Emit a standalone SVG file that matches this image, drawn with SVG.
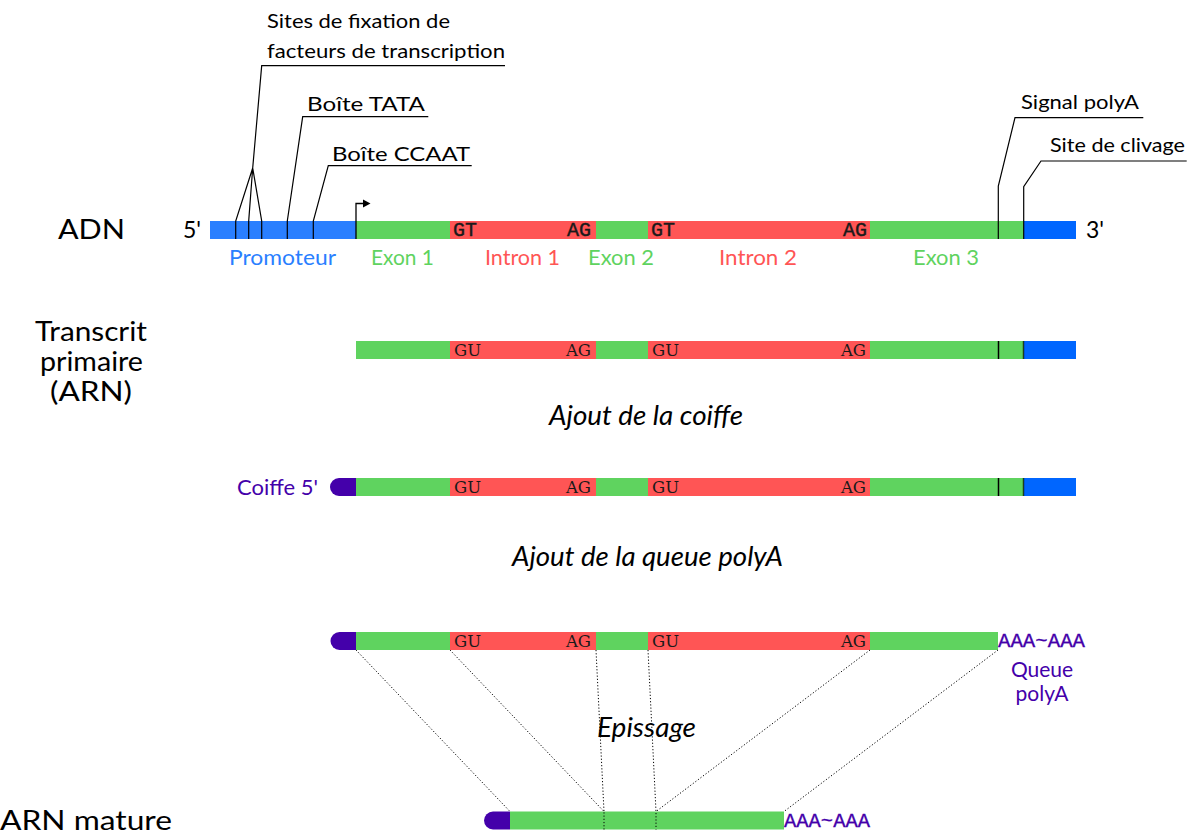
<svg xmlns="http://www.w3.org/2000/svg" width="1196" height="837" viewBox="0 0 1196 837">
<style>
.sans{font-family:Lato,"Open Sans","DejaVu Sans",sans-serif;}
.lbl{font-size:20px;fill:#000;}
.big{font-size:26px;fill:#000;}
.ital{font-size:27px;font-style:italic;fill:#000;}
.mono{font-family:"Liberation Mono","DejaVu Sans Mono",monospace;font-size:20px;fill:#1a1a1a;stroke:#1a1a1a;stroke-width:0.4;}
.ser{font-family:"DejaVu Serif","Liberation Serif",serif;font-size:16.5px;fill:#1a1a1a;}
.aaa{font-family:"Liberation Mono","DejaVu Sans Mono",monospace;font-size:20px;fill:#4400aa;stroke:#4400aa;stroke-width:0.3;}
.g{fill:#5fd35f;}
.r{fill:#ff5555;}
.b{fill:#0066ff;}
.pb{fill:#2a7fff;}
.cap{fill:#4400aa;}
.lead{fill:none;stroke:#000;stroke-width:1.2;}
.dot{fill:none;stroke:#000;stroke-width:1;stroke-dasharray:1.2,2;}
.mark{stroke:#000;stroke-width:1.5;}
</style>

<!-- Row labels -->
<g id="labels">
<text class="sans big" x="58" y="239" textLength="67" lengthAdjust="spacingAndGlyphs">ADN</text>
<text class="sans big" x="35" y="341" textLength="112" lengthAdjust="spacingAndGlyphs">Transcrit</text>
<text class="sans big" x="40" y="371" textLength="103" lengthAdjust="spacingAndGlyphs">primaire</text>
<text class="sans big" x="50" y="401" textLength="82" lengthAdjust="spacingAndGlyphs">(ARN)</text>
<text class="sans big" x="0" y="830" textLength="172" lengthAdjust="spacingAndGlyphs">ARN mature</text>
<text class="sans ital" x="549" y="425" textLength="194" lengthAdjust="spacingAndGlyphs">Ajout de la coiffe</text>
<text class="sans ital" x="512" y="566" textLength="271" lengthAdjust="spacingAndGlyphs">Ajout de la queue polyA</text>
<text class="sans ital" x="597" y="737" textLength="99" lengthAdjust="spacingAndGlyphs">Epissage</text>
</g>

<!-- DNA -->
<g id="adn">
<rect class="pb" x="210" y="221" width="146" height="18"/>
<rect class="g" x="356" y="221" width="94" height="18"/>
<rect class="r" x="450" y="221" width="146" height="18"/>
<rect class="g" x="596" y="221" width="52" height="18"/>
<rect class="r" x="648" y="221" width="222" height="18"/>
<rect class="g" x="870" y="221" width="154" height="18"/>
<rect class="b" x="1024" y="221" width="52" height="18"/>
<text class="mono" x="453" y="236">GT</text>
<text class="mono" x="591" y="236" text-anchor="end">AG</text>
<text class="mono" x="651" y="236">GT</text>
<text class="mono" x="867" y="236" text-anchor="end">AG</text>
<text class="sans" x="183" y="238" font-size="23">5'</text>
<text class="sans" x="1086" y="238" font-size="23">3'</text>
<text class="sans" x="229" y="265" font-size="21" fill="#2a7fff" textLength="107" lengthAdjust="spacingAndGlyphs">Promoteur</text>
<text class="sans" x="371" y="265" font-size="21" fill="#5fd35f" textLength="63" lengthAdjust="spacingAndGlyphs">Exon 1</text>
<text class="sans" x="485" y="265" font-size="21" fill="#ff5555" textLength="75" lengthAdjust="spacingAndGlyphs">Intron 1</text>
<text class="sans" x="588" y="265" font-size="21" fill="#5fd35f" textLength="66" lengthAdjust="spacingAndGlyphs">Exon 2</text>
<text class="sans" x="719" y="265" font-size="21" fill="#ff5555" textLength="78" lengthAdjust="spacingAndGlyphs">Intron 2</text>
<text class="sans" x="913" y="265" font-size="21" fill="#5fd35f" textLength="66" lengthAdjust="spacingAndGlyphs">Exon 3</text>
<path d="M356,239 V203.5 H363" fill="none" stroke="#000" stroke-width="1.3"/>
<path d="M363,199.5 L370.5,203.5 L363,207.5 Z" fill="#000"/>
</g>

<!-- Annotations -->
<g id="annotations">
<text class="sans lbl" x="267" y="28" textLength="183" lengthAdjust="spacingAndGlyphs">Sites de fixation de</text>
<text class="sans lbl" x="267" y="58" textLength="238" lengthAdjust="spacingAndGlyphs">facteurs de transcription</text>
<text class="sans lbl" x="307" y="111" textLength="118" lengthAdjust="spacingAndGlyphs">Boîte TATA</text>
<text class="sans lbl" x="332" y="161" textLength="138" lengthAdjust="spacingAndGlyphs">Boîte CCAAT</text>
<text class="sans lbl" x="1021" y="109" textLength="118" lengthAdjust="spacingAndGlyphs">Signal polyA</text>
<text class="sans lbl" x="1050" y="152" textLength="135" lengthAdjust="spacingAndGlyphs">Site de clivage</text>
</g>

<!-- Primary transcript -->
<g id="transcrit">
<rect class="g" x="356" y="341" width="94" height="18"/>
<rect class="r" x="450" y="341" width="146" height="18"/>
<rect class="g" x="596" y="341" width="52" height="18"/>
<rect class="r" x="648" y="341" width="222" height="18"/>
<rect class="g" x="870" y="341" width="154" height="18"/>
<rect class="b" x="1024" y="341" width="52" height="18"/>
<line class="mark" x1="998.5" y1="341" x2="998.5" y2="359"/>
<line class="mark" x1="1023.5" y1="341" x2="1023.5" y2="359" stroke-opacity="0.7"/>
<text class="ser" x="454" y="356">GU</text>
<text class="ser" x="591" y="356" text-anchor="end">AG</text>
<text class="ser" x="652" y="356">GU</text>
<text class="ser" x="866" y="356" text-anchor="end">AG</text>
</g>

<!-- Capped transcript -->
<g id="coiffe">
<path class="cap" d="M356,478 H339 A9,9 0 0 0 339,496 H356 Z"/>
<rect class="g" x="356" y="478" width="94" height="18"/>
<rect class="r" x="450" y="478" width="146" height="18"/>
<rect class="g" x="596" y="478" width="52" height="18"/>
<rect class="r" x="648" y="478" width="222" height="18"/>
<rect class="g" x="870" y="478" width="154" height="18"/>
<rect class="b" x="1024" y="478" width="52" height="18"/>
<line class="mark" x1="998.5" y1="478" x2="998.5" y2="496"/>
<line class="mark" x1="1023.5" y1="478" x2="1023.5" y2="496" stroke-opacity="0.7"/>
<text class="ser" x="454" y="493">GU</text>
<text class="ser" x="591" y="493" text-anchor="end">AG</text>
<text class="ser" x="652" y="493">GU</text>
<text class="ser" x="866" y="493" text-anchor="end">AG</text>
<text class="sans" x="237" y="495" font-size="21" fill="#4400aa" textLength="81" lengthAdjust="spacingAndGlyphs">Coiffe 5'</text>
</g>

<!-- Polyadenylated transcript -->
<g id="polya">
<path class="cap" d="M356,632 H339.5 A9,9 0 0 0 339.5,650 H356 Z"/>
<rect class="g" x="356" y="632" width="94" height="18"/>
<rect class="r" x="450" y="632" width="146" height="18"/>
<rect class="g" x="596" y="632" width="52" height="18"/>
<rect class="r" x="648" y="632" width="222" height="18"/>
<rect class="g" x="870" y="632" width="128" height="18"/>
<text class="ser" x="454" y="647">GU</text>
<text class="ser" x="591" y="647" text-anchor="end">AG</text>
<text class="ser" x="652" y="647">GU</text>
<text class="ser" x="866" y="647" text-anchor="end">AG</text>
<text class="aaa" x="998" y="646.5" textLength="87" lengthAdjust="spacingAndGlyphs">AAA~AAA</text>
<text class="sans" x="1042" y="677" font-size="21" fill="#4400aa" text-anchor="middle">Queue</text>
<text class="sans" x="1042" y="701" font-size="21" fill="#4400aa" text-anchor="middle">polyA</text>
</g>

<!-- Mature mRNA -->
<g id="mature">
<path class="cap" d="M510,811.5 H493 A9,9 0 0 0 493,829.5 H510 Z"/>
<rect class="g" x="510" y="811.5" width="274" height="18"/>
<text class="aaa" x="784" y="826.5" textLength="86" lengthAdjust="spacingAndGlyphs">AAA~AAA</text>
</g>

<!-- Connectors -->
<g id="connectors">
<path class="lead" d="M235.7,239 V221 L252.7,168 M248.7,239 V221 L252.7,168 M261.7,239 V221 L252.7,168 L261.7,65.7 H505"/>
<path class="lead" d="M287.3,239 V221 L302.7,116.7 H428.3"/>
<path class="lead" d="M313.3,239 V221 L328.3,165.7 H471.7"/>
<path class="lead" d="M998.3,239 V186 L1015,117.7 H1143.3"/>
<path class="lead" d="M1023.7,239 V186.7 L1041,161 H1186.7"/>
<path class="dot" d="M356,650 L510,811.5"/>
<path class="dot" d="M450,650 L604,811.5 V829.5"/>
<path class="dot" d="M596,650 L604,811.5"/>
<path class="dot" d="M648,650 L656,811.5 V829.5"/>
<path class="dot" d="M870,650 L656,811.5"/>
<path class="dot" d="M998,650 L784,811.5"/>
</g>
</svg>
